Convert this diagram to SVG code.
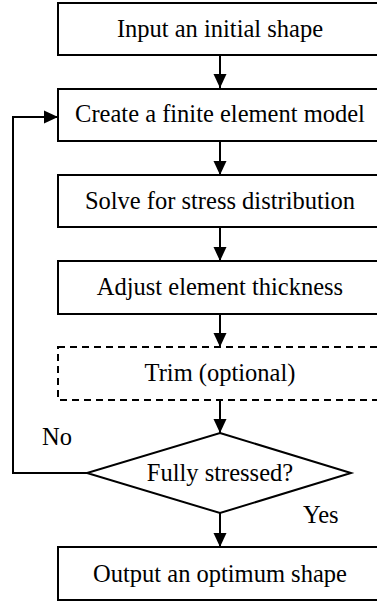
<svg xmlns="http://www.w3.org/2000/svg" width="377" height="602" viewBox="0 0 377 602">
<style>
.box{fill:#fff;stroke:#000;stroke-width:2}
.dash{fill:#fff;stroke:#000;stroke-width:2;stroke-dasharray:7 5}
text{font-family:'Liberation Serif','Times New Roman',Times,'DejaVu Serif',serif;font-size:24.5px;fill:#000}
.t{text-anchor:middle}
.c{fill:none;stroke:#000;stroke-width:2}
</style>
<defs>
<marker id="ah" markerUnits="userSpaceOnUse" markerWidth="14" markerHeight="14" refX="14" refY="7" orient="auto">
<path d="M0,0.5 L14,7 L0,13.5 Z" fill="#000"/>
</marker>
</defs>
<rect width="377" height="602" fill="#fff"/>
<g id="connectors">
<line class="c" x1="220" y1="55" x2="220" y2="88" marker-end="url(#ah)"/>
<line class="c" x1="220" y1="141" x2="220" y2="175" marker-end="url(#ah)"/>
<line class="c" x1="220" y1="227" x2="220" y2="261" marker-end="url(#ah)"/>
<line class="c" x1="220" y1="314" x2="220" y2="347" marker-end="url(#ah)"/>
<line class="c" x1="220" y1="400" x2="220" y2="433" marker-end="url(#ah)"/>
<line class="c" x1="220" y1="513" x2="220" y2="547" marker-end="url(#ah)"/>
<path class="c" d="M87,473 H13 V117 H58" marker-end="url(#ah)"/>
<text font-family="Liberation Serif, serif" x="42" y="445">No</text>
<text font-family="Liberation Serif, serif" x="303" y="523">Yes</text>
</g>
<g id="n1"><rect class="box" x="58" y="3" width="326" height="52"/><text class="t" font-family="Liberation Serif, serif" x="220" y="37">Input an initial shape</text></g>
<g id="n2"><rect class="box" x="58" y="89" width="326" height="52"/><text class="t" font-family="Liberation Serif, serif" x="220" y="122">Create a finite element model</text></g>
<g id="n3"><rect class="box" x="58" y="175" width="326" height="52"/><text class="t" font-family="Liberation Serif, serif" x="220" y="209">Solve for stress distribution</text></g>
<g id="n4"><rect class="box" x="58" y="261" width="326" height="53"/><text class="t" font-family="Liberation Serif, serif" x="220" y="295">Adjust element thickness</text></g>
<g id="n5"><rect class="dash" x="58" y="347" width="326" height="53"/><text class="t" font-family="Liberation Serif, serif" x="220" y="381">Trim (optional)</text></g>
<g id="n6"><polygon class="box" points="220,433 351,473 220,513 87,473"/><text class="t" font-family="Liberation Serif, serif" x="220" y="481">Fully stressed?</text></g>
<g id="n7"><rect class="box" x="58" y="547" width="326" height="53"/><text class="t" font-family="Liberation Serif, serif" x="220" y="582">Output an optimum shape</text></g>
</svg>
